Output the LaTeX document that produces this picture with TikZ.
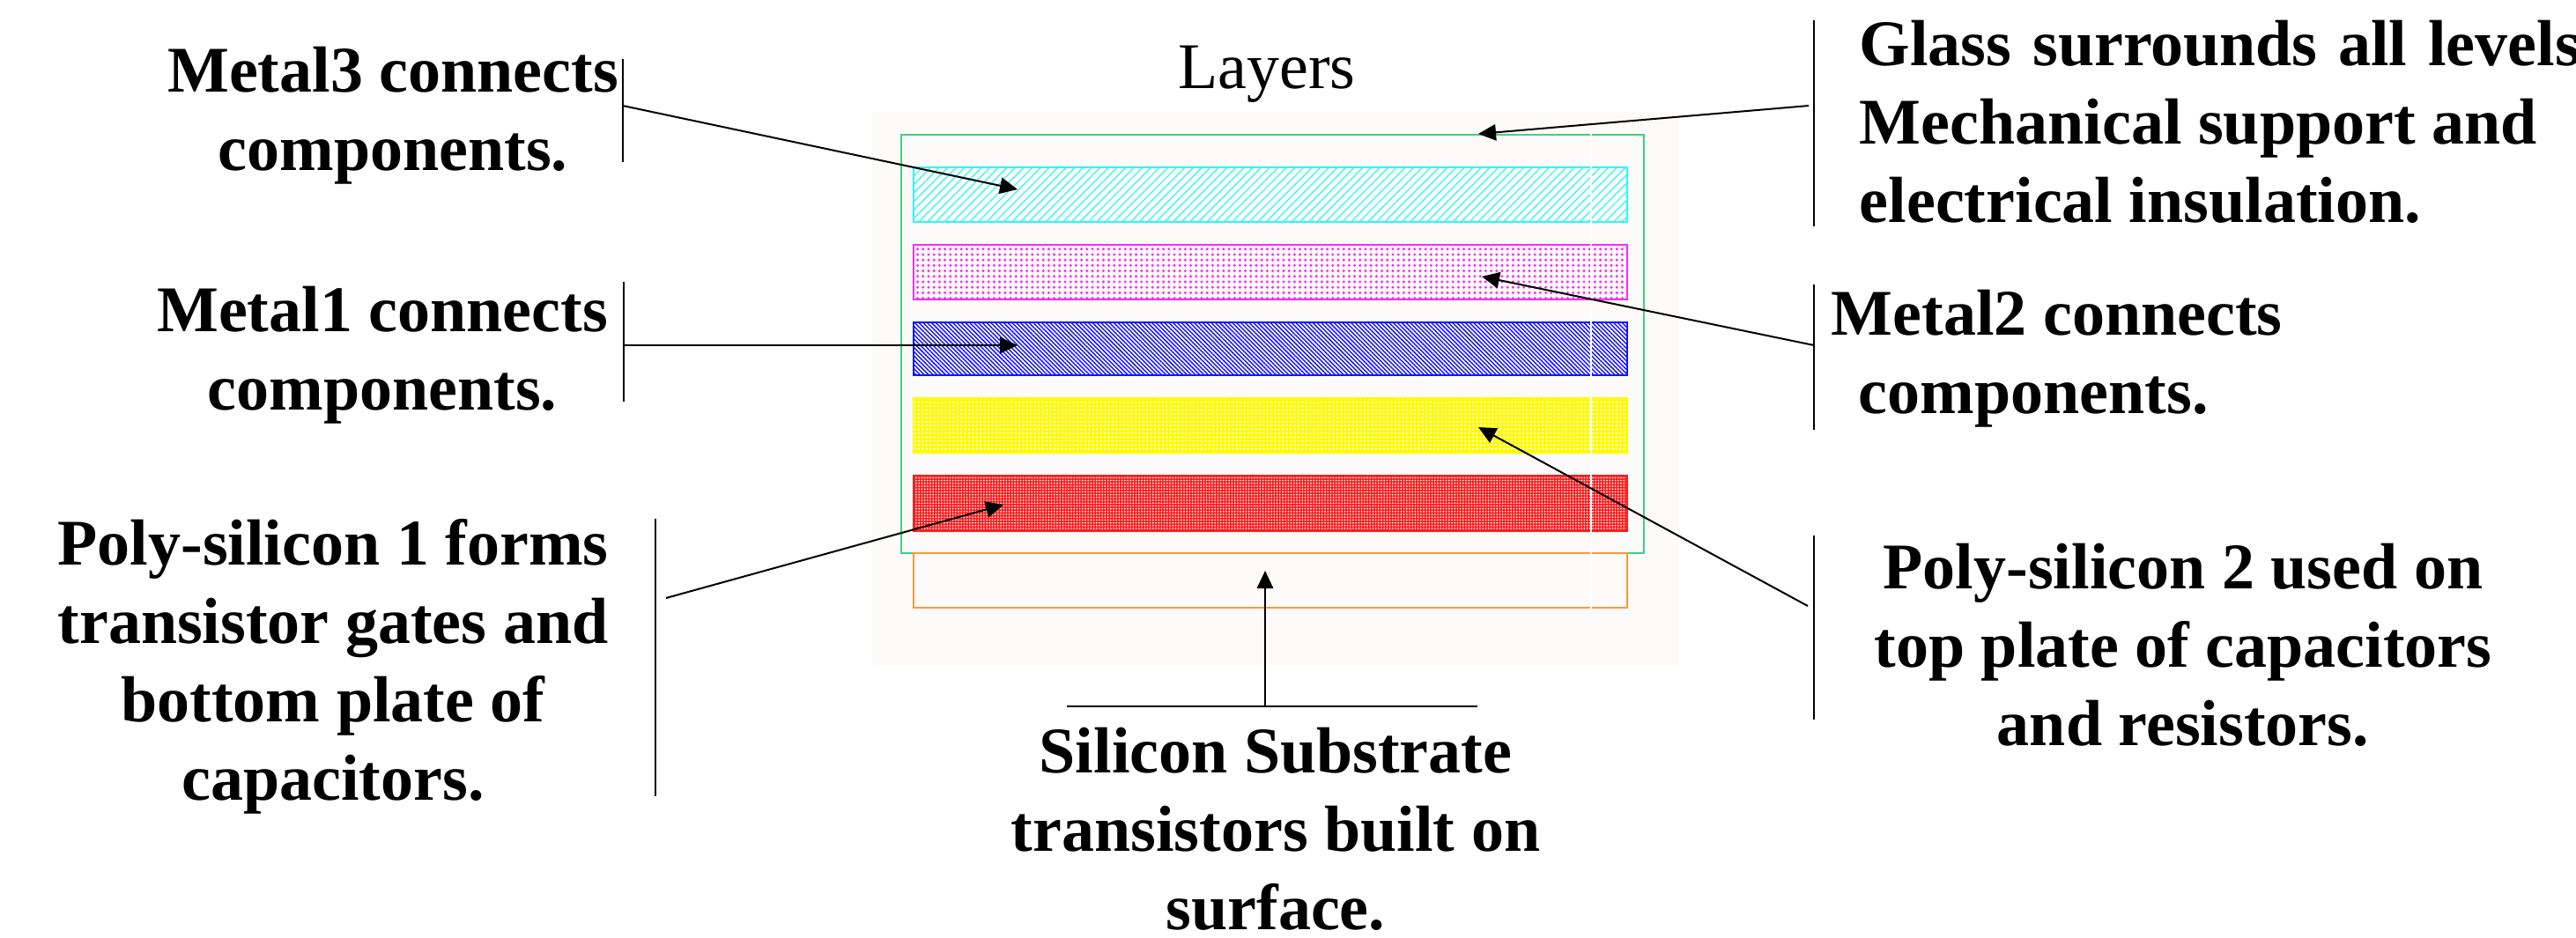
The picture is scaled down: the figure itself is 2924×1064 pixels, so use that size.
\documentclass[tikz,border=0pt]{standalone}
\usepackage{fontspec}
\setmainfont{Liberation Serif}
\usetikzlibrary{arrows.meta,patterns.meta}
\definecolor{backdrop}{RGB}{253,251,249}
\definecolor{glassgreen}{RGB}{60,210,130}
\definecolor{metalthree}{RGB}{40,250,250}
\definecolor{metaltwo}{RGB}{255,40,255}
\definecolor{metalone}{RGB}{20,20,255}
\definecolor{polytwo}{RGB}{255,250,0}
\definecolor{polyone}{RGB}{250,30,30}
\definecolor{substrate}{RGB}{255,150,60}
\newcommand{\wsp}{\hspace{0.32em}}
\begin{document}
\begin{tikzpicture}[x=0.25pt,y=-0.25pt,
  note/.style={inner sep=0pt, anchor=base, align=center,
    font=\fontsize{18.5pt}{22.2pt}\selectfont\bfseries},
  bar/.style={line width=0.4pt},
  pointer/.style={line width=0.5pt, -{Triangle[length=5pt,width=4.6pt]}},
  stratum/.style={line width=0.6pt}]
\useasboundingbox (0,0) rectangle (2924,1064);
\fill[white] (0,0) rectangle (2924,1064);
\fill[backdrop] (990,127) rectangle (1906,755);

% cross-section of the layer stack
\draw[stratum, glassgreen] (1023,153) rectangle (1866,628);
\draw[stratum, metalthree, pattern={Lines[angle=45,distance=1.7pt,line width=0.3pt]},
  pattern color=metalthree] (1037,190) rectangle (1847,252);
\draw[stratum, metaltwo, pattern={Dots[distance=1.55pt,radius=0.42pt]},
  pattern color=metaltwo] (1037,278) rectangle (1847,340);
\draw[stratum, metalone, pattern={Lines[angle=-45,distance=0.85pt,line width=0.36pt]},
  pattern color=metalone] (1037,366) rectangle (1847,426);
\draw[stratum, polytwo, preaction={fill=polytwo},
  pattern={Dots[distance=1.1pt,radius=0.32pt]}, pattern color=white]
  (1037,452) rectangle (1847,514);
\draw[stratum, polyone, preaction={fill=polyone},
  pattern={Dots[distance=0.8pt,radius=0.24pt]}, pattern color=white]
  (1037,540) rectangle (1847,603);
\draw[stratum, substrate] (1037,628) rectangle (1847,690);
\draw[white, line width=0.35pt] (1806,148) -- (1806,695);

\node[inner sep=0pt, anchor=base, font=\fontsize{18.5pt}{22.2pt}\selectfont]
  (title) at (1438,100) {Layers};

% labels (placed by the baseline of their last line)
\node[note] (m3) at (446,193) {Metal3 connects\\components.};
\node[note] (m1) at (434,465) {Metal1 connects\\components.};
\node[note] (p1) at (378,908) {Poly-silicon 1 forms\\transistor gates and\\bottom plate of\\capacitors.};
\node[note, align=left, anchor=base west] (gl) at (2110,252)
  {Glass\wsp surrounds\wsp all\wsp levels.\\Mechanical support and\\electrical insulation.};
\node[note, align=left, anchor=base west] (m2) at (2078,469)
  {Metal2 connects\\\hspace*{7.75pt}components.};
\node[note] (p2) at (2478,846) {Poly-silicon 2 used on\\top plate of capacitors\\and resistors.};
\node[note] (si) at (1448,1055) {Silicon Substrate\\transistors built on\\surface.};

% bars beside the labels
\draw[bar] (707,67) -- (707,184);
\draw[bar] (708,320) -- (708,456);
\draw[bar] (744,589) -- (744,904);
\draw[bar] (2059,23) -- (2059,257);
\draw[bar] (2059,323) -- (2059,488);
\draw[bar] (2059,608) -- (2059,817);
\draw[bar] (1211,802) -- (1677,802);

% connector ends
\coordinate (m3s) at (707,120);   \coordinate (m3t) at (1155,215);
\coordinate (m1s) at (708,392);   \coordinate (m1t) at (1155,392);
\coordinate (p1s) at (756,679);   \coordinate (p1t) at (1139,573);
\coordinate (gls) at (2053,120);  \coordinate (glt) at (1678,152);
\coordinate (m2s) at (2059,392);  \coordinate (m2t) at (1682,314);
\coordinate (p2s) at (2052,688);  \coordinate (p2t) at (1678,485);
\coordinate (sis) at (1436,802);  \coordinate (sit) at (1436,648);

\draw[pointer] (m3s) -- (m3t);
\draw[pointer] (m1s) -- (m1t);
\draw[pointer] (p1s) -- (p1t);
\draw[pointer] (gls) -- (glt);
\draw[pointer] (m2s) -- (m2t);
\draw[pointer] (p2s) -- (p2t);
\draw[pointer] (sis) -- (sit);
\end{tikzpicture}
\end{document}
